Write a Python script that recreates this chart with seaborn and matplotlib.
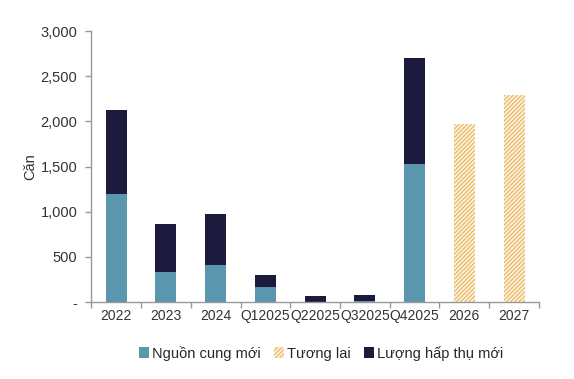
import seaborn as sns
import pandas as pd
import matplotlib.pyplot as plt
from matplotlib.patches import Patch
from matplotlib.ticker import FuncFormatter, FixedLocator

# values
periods = ['2022', '2023', '2024', 'Q12025', 'Q22025', 'Q32025', 'Q42025', '2026', '2027']
new_supply = [1200, 330, 410, 165, 5, 10, 1530, None, None]
new_absorbed = [930, 537, 565, 135, 58, 64, 1170, None, None]
future = [None, None, None, None, None, None, None, 1970, 2290]

teal = '#5A96AD'
navy = '#1C1B3E'
gold = '#E9B863'

sns.set_style('white')
plt.rcParams['font.family'] = ['Liberation Sans', 'DejaVu Sans']
plt.rcParams['hatch.linewidth'] = 0.9
plt.rcParams['hatch.color'] = gold

df = pd.DataFrame({'period': periods, 'supply': new_supply,
                   'absorbed': new_absorbed, 'future': future})
df['total'] = df['supply'] + df['absorbed']

fig = plt.figure(figsize=(5.74, 3.79), dpi=100)
ax = fig.add_axes([0.159, 0.203, 0.78, 0.715])

# stacked bars: draw totals first, then supply on top of them
sns.barplot(data=df, x='period', y='total', color=navy, width=0.42,
            saturation=1, ax=ax, order=periods, linewidth=0)
sns.barplot(data=df, x='period', y='supply', color=teal, width=0.42,
            saturation=1, ax=ax, order=periods, linewidth=0)
sns.barplot(data=df, x='period', y='future', color='#FDF4E2', width=0.42,
            saturation=1, ax=ax, order=periods, hatch='////////',
            edgecolor=gold, linewidth=0)

ax.set_ylim(0, 3000)
ax.set_xlim(-0.5, len(periods) - 0.5)
ax.set_yticks(range(0, 3001, 500))
ax.yaxis.set_major_formatter(FuncFormatter(lambda v, p: '-' if v == 0 else f'{int(v):,}'))
ax.set_xlabel('')
ax.set_ylabel('Căn', fontsize=10.5, color='#333333', labelpad=2)

# tick marks between categories on x, outward on y
ax.xaxis.set_minor_locator(FixedLocator([i - 0.5 for i in range(len(periods) + 1)]))
ax.tick_params(axis='x', which='major', length=0, labelsize=10, colors='#333333', pad=5)
ax.tick_params(axis='x', which='minor', length=4, color='#999999', width=1, bottom=True)
ax.tick_params(axis='y', length=4, color='#999999', width=1, left=True,
               labelsize=10.5, colors='#333333', pad=6)

sns.despine(ax=ax)
for side in ['left', 'bottom']:
    ax.spines[side].set_color('#999999')
    ax.spines[side].set_linewidth(1)

handles = [Patch(facecolor=teal, linewidth=0, label='Nguồn cung mới'),
           Patch(facecolor='#FDF4E2', edgecolor=gold, hatch='////////', linewidth=0, label='Tương lai'),
           Patch(facecolor=navy, linewidth=0, label='Lượng hấp thụ mới')]
fig.legend(handles=handles, loc='center', bbox_to_anchor=(0.56, 0.068), ncol=3,
           frameon=False, fontsize=10.5, handlelength=0.7, handleheight=0.7,
           handletextpad=0.2, columnspacing=0.9)

plt.savefig('out.png', dpi=100)
